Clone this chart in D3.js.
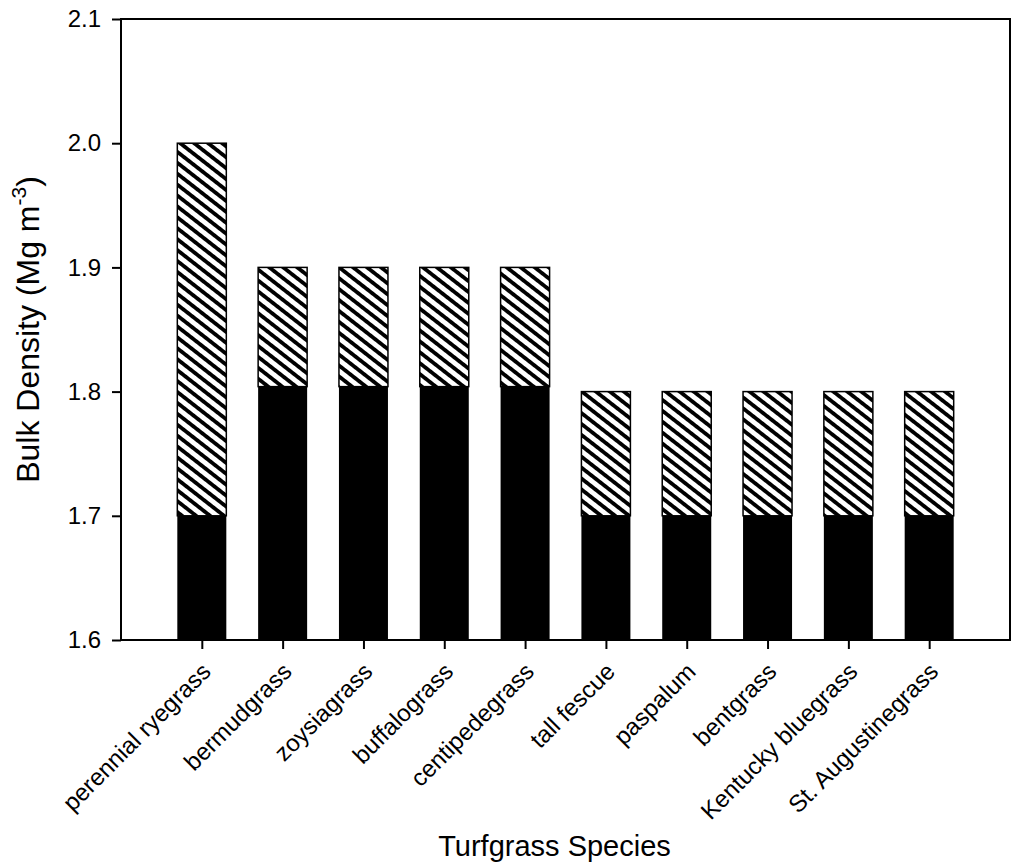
<!DOCTYPE html>
<html>
<head>
<meta charset="utf-8">
<script src="https://cdn.jsdelivr.net/npm/d3@7"></script>
<style>
  html, body { margin: 0; padding: 0; background: #fff; }
  svg { display: block; font-family: "Liberation Sans", Arial, sans-serif; }
</style>
</head>
<body>
<svg id="chart" width="1013" height="867"></svg>
<script>
// Turfgrass species along the x axis
const categories = [
  "perennial ryegrass", "bermudgrass", "zoysiagrass", "buffalograss",
  "centipedegrass", "tall fescue", "paspalum", "bentgrass",
  "Kentucky bluegrass", "St. Augustinegrass"
];
// Lower end of the range (solid segment top)
const lowerValues = [1.70, 1.804, 1.804, 1.804, 1.804, 1.70, 1.70, 1.70, 1.70, 1.70];
// Upper end of the range (hatched segment top)
const upperValues = [2.00, 1.90, 1.90, 1.90, 1.90, 1.80, 1.80, 1.80, 1.80, 1.80];
const yTicks = [1.6, 1.7, 1.8, 1.9, 2.0, 2.1];
const yDomain = [1.6, 2.1];

const svg = d3.select("#chart");
const plotLeft = 121, plotRight = 1010, plotTop = 19, plotBottom = 640;
const barWidth = 49;
const tickFont = 24;

const x = d3.scalePoint().domain(categories).range([plotLeft, plotRight]).padding(1);
const y = d3.scaleLinear().domain(yDomain).range([plotBottom, plotTop]);

// diagonal hatch fill
const defs = svg.append("defs");
const pat = defs.append("pattern")
  .attr("id", "hatch")
  .attr("patternUnits", "userSpaceOnUse")
  .attr("width", 8.6).attr("height", 8.6)
  .attr("patternTransform", "rotate(38)");
pat.append("rect").attr("width", 8.6).attr("height", 8.6).attr("fill", "#fff");
pat.append("rect").attr("y", 0).attr("width", 8.6).attr("height", 3.8).attr("fill", "#000");

const data = categories.map((c, i) => ({ c, lo: lowerValues[i], hi: upperValues[i] }));

// solid segment from the axis base to the lower value
svg.append("g").selectAll("rect").data(data).join("rect")
  .attr("x", d => x(d.c) - barWidth / 2)
  .attr("width", barWidth)
  .attr("y", d => y(d.lo))
  .attr("height", d => y(yDomain[0]) - y(d.lo))
  .attr("fill", "#000");

// hatched segment from the lower to the upper value
svg.append("g").selectAll("rect").data(data).join("rect")
  .attr("x", d => x(d.c) - barWidth / 2)
  .attr("width", barWidth)
  .attr("y", d => y(d.hi))
  .attr("height", d => y(d.lo) - y(d.hi))
  .attr("fill", "url(#hatch)")
  .attr("stroke", "#000")
  .attr("stroke-width", 1.5);

// frame
svg.append("rect")
  .attr("x", plotLeft).attr("y", plotTop)
  .attr("width", plotRight - plotLeft).attr("height", plotBottom - plotTop)
  .attr("fill", "none").attr("stroke", "#000").attr("stroke-width", 2);

// y axis
const yAxis = svg.append("g")
  .attr("transform", `translate(${plotLeft},0)`)
  .call(d3.axisLeft(y).tickValues(yTicks).tickFormat(d3.format(".1f")).tickSize(9).tickSizeOuter(0).tickPadding(11));
yAxis.select(".domain").remove();
yAxis.selectAll(".tick line").attr("stroke-width", 2);
yAxis.selectAll(".tick text").attr("font-size", tickFont).attr("font-family", "Liberation Sans, Arial, sans-serif").attr("fill", "#000");

// x axis
const xAxis = svg.append("g")
  .attr("transform", `translate(0,${plotBottom})`)
  .call(d3.axisBottom(x).tickSize(9).tickSizeOuter(0));
xAxis.select(".domain").remove();
xAxis.selectAll(".tick line").attr("stroke-width", 2);
xAxis.selectAll(".tick text")
  .attr("font-size", tickFont)
  .attr("font-family", "Liberation Sans, Arial, sans-serif")
  .attr("fill", "#000")
  .attr("text-anchor", "end")
  .attr("dy", null)
  .attr("y", 0)
  .attr("transform", "translate(10,33) rotate(-45)");

// axis titles
svg.append("text")
  .attr("x", (plotLeft + plotRight) / 2 - 11)
  .attr("y", 856)
  .attr("text-anchor", "middle")
  .attr("font-size", 29)
  .text("Turfgrass Species");

const yt = svg.append("text")
  .attr("transform", `translate(39,${(plotTop + plotBottom) / 2}) rotate(-90)`)
  .attr("text-anchor", "middle")
  .attr("font-size", 32);
yt.append("tspan").text("Bulk Density (Mg m");
yt.append("tspan").attr("font-size", 21).attr("dy", -13).text("-3");
yt.append("tspan").attr("dy", 13).text(")");
</script>
</body>
</html>
